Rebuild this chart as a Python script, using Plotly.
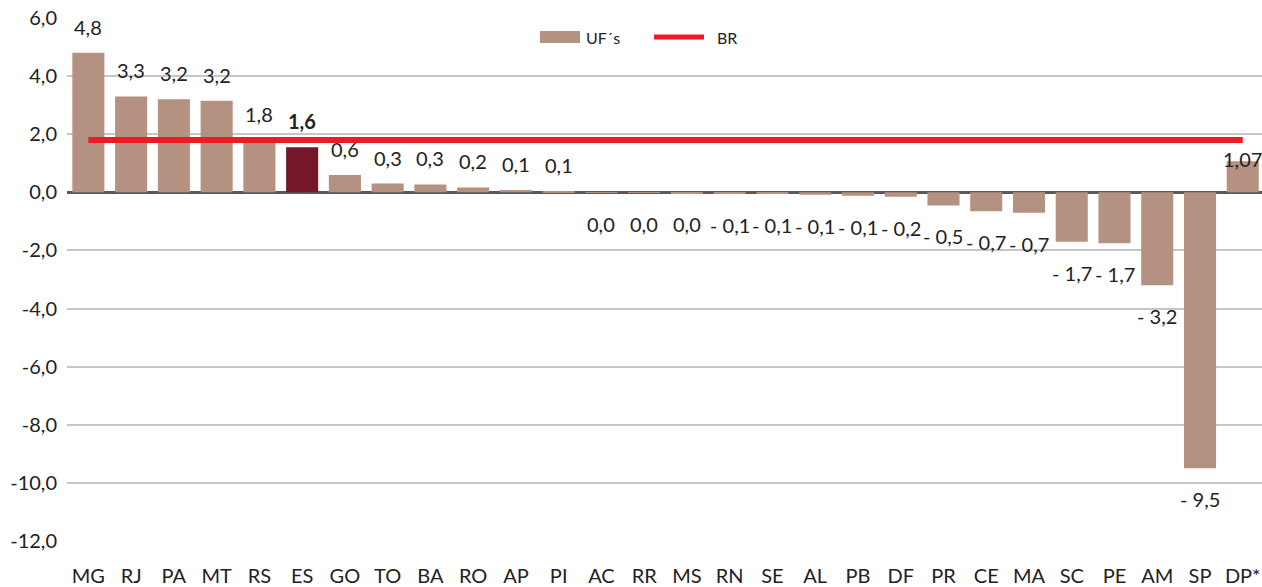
import plotly.graph_objects as go

# Variação por unidade da federação
categories = ["MG", "RJ", "PA", "MT", "RS", "ES", "GO", "TO", "BA", "RO", "AP", "PI",
              "AC", "RR", "MS", "RN", "SE", "AL", "PB", "DF", "PR", "CE", "MA", "SC",
              "PE", "AM", "SP", "DP*"]
uf_values = [4.8, 3.3, 3.2, 3.15, 1.8, 1.55, 0.6, 0.3, 0.27, 0.17, 0.08, 0.05,
             -0.01, -0.02, -0.03, -0.05, -0.06, -0.08, -0.12, -0.15, -0.45, -0.65, -0.7, -1.7,
             -1.75, -3.2, -9.5, 1.07]
uf_labels = ["4,8", "3,3", "3,2", "3,2", "1,8", "1,6", "0,6", "0,3", "0,3", "0,2", "0,1", "0,1",
             "0,0", "0,0", "0,0", "- 0,1", "- 0,1", "- 0,1", "- 0,1", "- 0,2", "- 0,5", "- 0,7", "- 0,7", "- 1,7",
             "- 1,7", "- 3,2", "- 9,5", "1,07"]
br_value = 1.8
highlight = "ES"

y_ticks = [6, 4, 2, 0, -2, -4, -6, -8, -10, -12]
y_tick_text = ["6,0", "4,0", "2,0", "0,0", "-2,0", "-4,0", "-6,0", "-8,0", "-10,0", "-12,0"]

BAR = "#B59181"
HIGHLIGHT = "#731729"
RED = "#EC1C24"
TEXT = "#222222"
FONT = "Lato, Calibri, sans-serif"

# plot-area geometry in pixels, used to place the hand-drawn legend
W, H = 1262, 587
ML, MR, MT, MB = 67, 0, 18, 46
PW, PH = W - ML - MR, H - MT - MB


def px_x(px):
    return (px - ML) / PW


def px_y(py):
    return (H - MB - py) / PH


bar_colors = [HIGHLIGHT if c == highlight else BAR for c in categories]

fig = go.Figure()
fig.add_trace(go.Bar(
    x=categories, y=uf_values, name="UF´s",
    marker=dict(color=bar_colors, line=dict(width=0)),
    showlegend=False,
))
fig.add_trace(go.Scatter(
    x=[categories[0], categories[-1]], y=[br_value, br_value], name="BR",
    mode="lines", line=dict(color=RED, width=6), showlegend=False,
))

# data labels
for c, v, t in zip(categories, uf_values, uf_labels):
    if c == "DP*":
        shift = 2
    elif v > 0.005:
        shift = 26
    else:
        shift = -31
    fig.add_annotation(
        x=c, y=v, text=f"<b>{t}</b>" if c == highlight else t,
        showarrow=False, yshift=shift,
        font=dict(family=FONT, size=20, color=TEXT),
    )

# legend: bar swatch + series line
fig.add_shape(type="rect", xref="paper", yref="paper",
              x0=px_x(540), x1=px_x(580), y0=px_y(43), y1=px_y(31),
              fillcolor=BAR, line=dict(width=0), layer="above")
fig.add_annotation(xref="paper", yref="paper", x=px_x(584), y=px_y(37),
                   xanchor="left", yanchor="middle", showarrow=False,
                   text="UF´s", font=dict(family=FONT, size=16, color=TEXT))
fig.add_shape(type="line", xref="paper", yref="paper",
              x0=px_x(654), x1=px_x(704), y0=px_y(37), y1=px_y(37),
              line=dict(color=RED, width=5), layer="above")
fig.add_annotation(xref="paper", yref="paper", x=px_x(715), y=px_y(37),
                   xanchor="left", yanchor="middle", showarrow=False,
                   text="BR", font=dict(family=FONT, size=16, color=TEXT))

fig.update_layout(
    width=W, height=H,
    margin=dict(l=ML, r=MR, t=MT, b=MB),
    plot_bgcolor="white", paper_bgcolor="white",
    bargap=0.25,
    showlegend=False,
    font=dict(family=FONT, color=TEXT),
    xaxis=dict(
        range=[-0.5, 27.45], showgrid=False, showline=False, ticks="",
        tickfont=dict(size=20, family=FONT), ticklabelstandoff=21,
        automargin=False,
    ),
    yaxis=dict(
        range=[-12, 6], tickvals=y_ticks, ticktext=y_tick_text,
        showgrid=True, gridcolor="#C5C5CA", gridwidth=2,
        zeroline=True, zerolinecolor="#595959", zerolinewidth=3,
        showline=False, ticks="", tickfont=dict(size=20, family=FONT),
        ticklabelstandoff=9, automargin=False,
    ),
)

fig.write_html("out.html")
